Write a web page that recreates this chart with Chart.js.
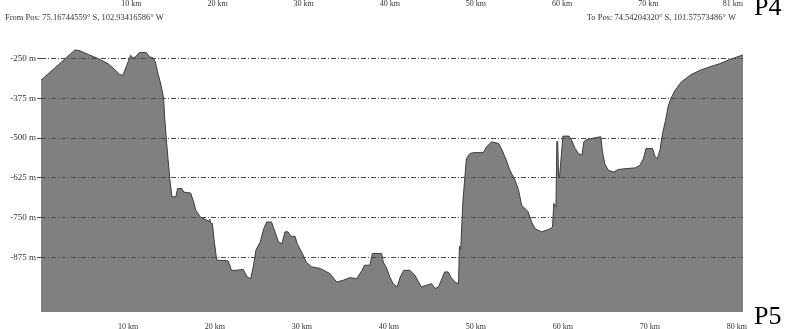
<!DOCTYPE html>
<html>
<head>
<meta charset="utf-8">
<script src="https://cdn.jsdelivr.net/npm/chart.js@4"></script>
<style>
  html, body { margin: 0; padding: 0; background: #fff; }
  #wrap { width: 785px; height: 329px; }
</style>
</head>
<body>
<div id="wrap"><canvas id="profile" width="785" height="329"></canvas></div>
<script>
// Terrain profile along the track: distance (km) and elevation (m)
const distanceKm = [
  0, 2.0, 3.9, 4.5, 5.5, 6.55, 7.7, 8.4, 9.05, 9.4, 9.8, 10.3, 10.6, 10.9, 11.3, 12.1,
  12.5, 12.9, 13.15, 13.4, 13.8, 14.1, 14.2, 14.4, 14.6, 14.8, 15.05, 15.5, 15.7, 16.2,
  16.4, 17.2, 17.5, 17.8, 18.3, 19.05, 19.3, 19.4, 19.5, 19.7, 19.9, 20.2, 21.5, 21.9,
  22.4, 23.25, 23.7, 24.1, 24.4, 24.7, 25.2, 25.6, 25.95, 26.5, 26.9, 27.3, 27.7, 28.05,
  28.4, 28.7, 29.2, 29.45, 29.95, 30.5, 31.1, 32.1, 33.2, 34.0, 34.75, 35.5, 36.3, 36.9,
  37.2, 37.8, 38.1, 39.15, 39.35, 39.7, 40.1, 40.5, 40.95, 41.3, 41.7, 42.4, 43.0, 43.4,
  43.75, 44.3, 44.9, 45.3, 45.7, 46.1, 46.4, 46.8, 47.1, 47.6, 48.0, 48.1, 48.25, 48.5,
  48.9, 49.3, 49.7, 50.85, 51.2, 51.8, 52.6, 53.0, 53.5, 53.9, 54.5, 54.9, 55.25, 56.0,
  56.4, 56.8, 57.55, 58.3, 58.8, 58.95, 59.2, 59.3, 59.4, 59.5, 59.6, 60.0, 60.7, 61.0,
  61.4, 61.8, 62.2, 62.4, 62.7, 63.9, 64.35, 64.55, 64.8, 65.2, 65.8, 66.35, 67.3, 68.3,
  68.85, 69.25, 69.55, 70.3, 70.6, 70.85, 71.15, 71.45, 71.8, 72.1, 72.4, 72.9, 73.6,
  74.6, 75.75, 76.9, 78.05, 79.2, 80.35, 80.7
];
const elevationM = [
  -318, -270, -223, -226, -238, -250, -266, -283, -300, -303, -276, -240, -248, -244, -231, -231,
  -245, -248, -261, -292, -334, -376, -428, -502, -565, -627, -685, -685, -659, -659,
  -670, -673, -696, -727, -748, -758, -762, -755, -767, -769, -821, -884, -886, -916,
  -916, -913, -937, -942, -905, -853, -827, -785, -764, -764, -795, -827, -832, -795,
  -795, -809, -809, -832, -858, -890, -905, -910, -926, -953, -947, -939, -942, -916,
  -900, -900, -863, -863, -890, -907, -937, -958, -968, -937, -916, -916, -932, -953,
  -968, -963, -958, -973, -968, -942, -921, -921, -937, -953, -958, -840, -850, -700,
  -565, -549, -546, -546, -528, -512, -517, -538, -570, -601, -633, -664, -711, -732,
  -764, -785, -795, -788, -781, -706, -717, -510, -512, -620, -626, -494, -494, -507,
  -533, -549, -554, -512, -505, -498, -496, -544, -580, -601, -607, -599, -596, -594,
  -586, -565, -533, -533, -559, -565, -538, -486, -444, -400, -376, -350, -324,
  -303, -287, -276, -266, -253, -242, -239
];

// Axis ticks
const elevTicks = [-250, -375, -500, -625, -750, -875];
const distTicks = [10, 20, 30, 40, 50, 60, 70, 80];
// Distance labels of the panel above (its track is 81 km long)
const prevPanelTicks = [10, 20, 30, 40, 50, 60, 70, 81];

// Header texts
const fromPos = 'From Pos: 75.16744559° S, 102.93416586° W';
const toPos = 'To Pos: 74.54204320° S, 101.57573486° W';
const panelAbove = 'P4';
const panelHere = 'P5';

const serif = '"Liberation Serif", "Times New Roman", serif';

const headerPlugin = {
  id: 'profileHeader',
  afterDraw(chart) {
    const c = chart.ctx;
    const area = chart.chartArea;
    const topScale = chart.scales.xTop;
    c.save();
    c.fillStyle = '#333';
    c.font = '8px ' + serif;
    c.textBaseline = 'middle';
    c.textAlign = 'center';
    prevPanelTicks.forEach(v => {
      const t = v + ' km';
      const w = c.measureText(t).width;
      const px = Math.min(topScale.getPixelForValue(v), area.right - w / 2);
      c.fillText(t, px, 3.5);
    });
    c.font = '8.5px ' + serif;
    c.textAlign = 'left';
    c.fillText(fromPos, 5, 18);
    c.textAlign = 'right';
    c.fillText(toPos, area.right - 7, 18);
    c.fillStyle = '#000';
    c.font = '26px ' + serif;
    c.textAlign = 'left';
    c.textBaseline = 'alphabetic';
    c.fillText(panelAbove, area.right + 11, 15);
    c.fillText(panelHere, area.right + 11, 324);
    c.restore();
  }
};

const points = distanceKm.map((d, i) => ({ x: d, y: elevationM[i] }));
const gridColor = '#4a4a4a';
const dashDot = [5, 2, 1, 2];

new Chart(document.getElementById('profile'), {
  type: 'line',
  data: {
    datasets: [{
      data: points,
      fill: 'start',
      backgroundColor: '#808080',
      borderColor: '#3c3c3c',
      borderWidth: 1,
      pointRadius: 0,
      tension: 0
    }]
  },
  options: {
    responsive: false,
    animation: false,
    devicePixelRatio: 1,
    layout: { padding: { top: 48, right: 42, left: 0, bottom: 0 } },
    plugins: { legend: { display: false }, tooltip: { enabled: false } },
    scales: {
      x: {
        type: 'linear',
        position: 'bottom',
        min: 0,
        max: 80.7,
        afterBuildTicks: s => { s.ticks = distTicks.map(v => ({ value: v })); },
        afterFit: s => { s.height = 17; },
        grid: { display: false },
        border: { display: false },
        ticks: {
          autoSkip: false,
          maxRotation: 0,
          padding: 2,
          color: '#333',
          font: { family: serif, size: 8 },
          callback: v => v + ' km'
        }
      },
      xTop: {
        type: 'linear',
        position: 'top',
        min: -0.5,
        max: 81,
        display: false
      },
      y: {
        type: 'linear',
        min: -1047,
        max: -217,
        afterBuildTicks: s => { s.ticks = elevTicks.map(v => ({ value: v })); },
        afterFit: s => { s.width = 41; },
        border: { display: false, dash: dashDot },
        grid: {
          z: 1,
          color: gridColor,
          lineWidth: 1,
          drawTicks: true,
          tickLength: 4,
          tickColor: gridColor,
          tickBorderDash: dashDot
        },
        ticks: {
          padding: 1,
          color: '#333',
          font: { family: serif, size: 9 },
          callback: v => v + ' m'
        }
      }
    }
  },
  plugins: [headerPlugin]
});
</script>
</body>
</html>
